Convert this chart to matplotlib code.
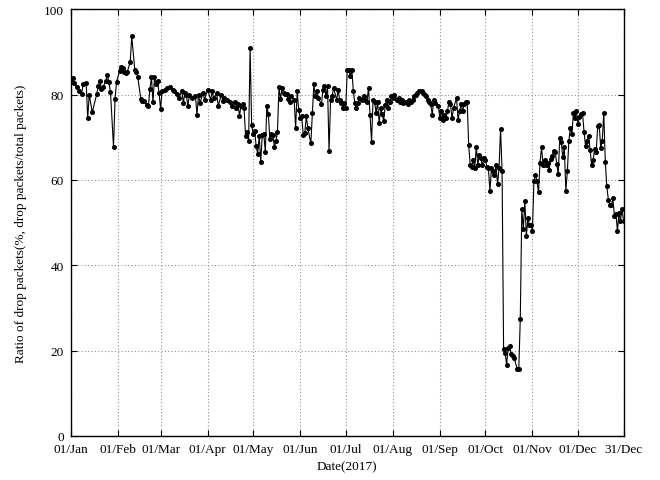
import matplotlib
matplotlib.use("Agg")
import matplotlib.pyplot as plt
import matplotlib.dates as mdates
import numpy as np
import pandas as pd

# ---- data (day offset from 2017-01-01, ratio %) ----
day_of_year = [
    0, 1, 2, 4, 5, 7, 8, 10, 11, 12, 14, 17, 18, 19, 20, 21, 23, 24, 25, 26, 28, 29, 30,
    32, 33, 34, 35, 36, 37, 39, 40, 42, 43, 44, 46, 47, 48, 50, 51, 52, 53, 54, 55, 56, 57, 58,
    59, 60, 62, 63, 65, 67, 68, 70, 71, 73, 74, 75, 76, 77, 78, 80, 82, 83, 84, 85, 87, 88, 90,
    92, 93, 94, 96, 97, 99, 100, 101, 103, 105, 106, 108, 109, 110, 111, 112, 113, 114, 115, 116, 117, 118, 119,
    120, 121, 122, 123, 124, 125, 126, 127, 128, 129, 130, 131, 132, 133, 134, 135, 136, 137, 138, 139, 140,
    141, 142, 143, 144, 145, 147, 148, 149, 150,
    151, 152, 153, 154, 155, 156, 158, 159, 160, 161, 162, 163, 165, 166, 167, 168, 169, 170,
    171, 172, 173, 175, 176, 177, 178, 179, 180,
    181, 182, 183, 184, 185, 186, 187, 188, 189, 190, 192, 193, 194, 195, 196, 197, 198, 199, 200,
    201, 202, 203, 204, 205, 206, 207, 208, 209, 210, 211,
    212, 213, 215, 216, 217, 218, 219, 221, 222, 223, 224, 225, 226, 227, 228, 229, 231, 232, 233,
    234, 235, 236, 237, 238, 239, 240, 242,
    243, 244, 245, 246, 247, 248, 249, 250, 251, 252, 254, 255, 256, 257, 258, 259, 260, 261, 262,
    263, 264, 265, 266, 267, 268, 269, 270, 271, 272,
    273, 274, 275, 276, 277, 278, 279, 280, 281, 282, 283, 284, 285, 286, 287, 288, 289, 290, 291,
    292, 294, 295, 296, 297, 298, 299, 300, 301, 302, 303,
    304, 305, 306, 307, 308, 309, 310, 311, 312, 313, 314, 315, 316, 317, 318, 319, 320, 321, 322,
    323, 324, 325, 326, 327, 328, 329, 330, 331, 332, 333,
    334, 335, 336, 337, 338, 339, 340, 341, 342, 343, 344, 345, 346, 347, 348, 349, 350, 351, 352,
    353, 354, 355, 356, 357, 358, 359, 360, 361, 362, 363, 364,
]
ratio = [
    82.9, 83.9, 82.7, 81.7, 80.9, 80.2, 82.5, 82.7, 74.5, 80.0, 75.9, 80.2, 82.1, 83.3, 81.3, 81.7, 83.3, 84.5, 82.9, 80.6, 67.7, 79.0, 83.0,
    85.6, 86.6, 86.2, 85.4, 85.1, 85.3, 87.6, 93.7, 85.9, 85.4, 84.1, 79.0, 78.6, 78.6, 77.6, 77.4, 81.3, 84.1, 78.2, 84.1, 82.5, 83.3, 80.4,
    76.7, 80.8, 81.2, 81.5, 81.8, 81.2, 80.8, 80.2, 79.2, 80.8, 78.1, 80.4, 80.0, 77.3, 80.0, 79.2, 79.6, 75.3, 80.0, 78.1, 80.4, 78.8, 81.2,
    78.8, 80.8, 79.2, 80.4, 77.3, 80.0, 78.6, 79.2, 78.8, 78.4, 77.3, 78.4, 76.9, 77.7, 75.1, 77.3, 77.7, 76.8, 70.4, 71.2, 69.2, 90.9, 72.9,
    70.8, 71.4, 67.9, 66.1, 70.4, 64.3, 70.5, 70.8, 66.6, 77.3, 75.5, 69.6, 70.8, 70.5, 67.7, 69.2, 71.2, 81.7, 79.0, 81.5, 80.4,
    80.2, 80.2, 79.0, 78.4, 79.6, 78.8, 72.2, 80.8, 76.5,
    74.5, 74.9, 70.6, 71.0, 74.9, 72.2, 68.6, 75.7, 82.4, 79.6, 80.8, 79.2, 77.7, 81.2, 82.0, 79.6, 82.0, 66.7,
    78.8, 79.6, 81.6, 78.8, 81.2, 78.8, 78.1, 76.9, 78.1,
    76.9, 85.9, 85.7, 84.4, 85.9, 80.8, 78.1, 76.9, 78.1, 79.2, 78.8, 79.6, 78.8, 78.4, 81.6, 75.3, 69.0, 78.8, 78.4,
    75.7, 78.4, 73.3, 76.9, 75.5, 73.8, 77.5, 78.8, 76.9, 78.4, 79.6,
    79.2, 80.0, 78.8, 79.2, 78.4, 78.8, 78.1, 78.4, 77.7, 78.8, 78.4, 78.8, 79.6, 80.0, 80.4, 80.8, 80.8, 80.4, 80.0,
    79.6, 78.8, 78.4, 77.7, 75.3, 78.8, 78.1, 77.3,
    74.5, 76.1, 74.1, 75.3, 74.5, 76.1, 78.4, 77.7, 74.5, 76.9, 79.2, 74.1, 76.1, 77.7, 76.1, 77.7, 78.4, 78.4, 68.2,
    63.5, 63.1, 64.7, 62.7, 67.8, 63.5, 65.9, 65.1, 63.5, 65.1,
    64.7, 63.1, 62.7, 57.4, 62.7, 62.0, 61.2, 63.5, 59.0, 62.7, 72.0, 62.0, 20.3, 19.5, 16.7, 20.7, 21.1, 19.1, 18.7,
    18.3, 15.6, 15.6, 27.5, 53.2, 48.5, 55.1, 46.9, 51.0, 49.5, 49.5,
    48.1, 59.8, 61.2, 59.7, 57.1, 64.1, 67.7, 63.5, 64.8, 63.5, 64.0, 62.3, 64.9, 65.6, 66.9, 66.6, 63.8, 61.4, 69.8,
    68.8, 65.3, 67.7, 57.5, 62.0, 69.2, 72.2, 70.8, 75.6, 74.5, 76.1,
    73.1, 74.7, 75.5, 75.7, 71.3, 68.0, 69.2, 70.4, 67.1, 63.4, 64.7, 67.3, 66.5, 72.6, 72.9, 67.4, 69.2, 75.7, 64.3,
    58.5, 55.4, 54.2, 54.2, 55.7, 51.6, 52.0, 48.1, 52.2, 50.5, 53.2, 50.5,
]

tick_dates = ["2017-01-01", "2017-02-01", "2017-03-01", "2017-04-01", "2017-05-01",
              "2017-06-01", "2017-07-01", "2017-08-01", "2017-09-01", "2017-10-01",
              "2017-11-01", "2017-12-01", "2017-12-31"]
tick_labels = ["01/Jan", "01/Feb", "01/Mar", "01/Apr", "01/May", "01/Jun", "01/Jul",
               "01/Aug", "01/Sep", "01/Oct", "01/Nov", "01/Dec", "31/Dec"]
y_ticks = [0, 20, 40, 60, 80, 100]

plt.rcParams['font.family'] = ['Liberation Serif', 'DejaVu Serif']
plt.rcParams['font.size'] = 9.5

dates = pd.Timestamp("2017-01-01") + pd.to_timedelta(day_of_year, unit="D")
tick_pos = pd.to_datetime(tick_dates)

fig = plt.figure(figsize=(6.6, 4.81), dpi=100)
ax = fig.add_axes([0.1076, 0.0917, 0.8371, 0.8867])

ax.plot(dates, ratio, color="black", linewidth=0.8, marker="o",
        markersize=2.6, markerfacecolor="black", markeredgecolor="black", zorder=3)

ax.set_xlim(pd.Timestamp("2017-01-01"), pd.Timestamp("2017-12-31"))
ax.set_ylim(0, 100)
ax.set_xticks(tick_pos)
ax.set_xticklabels(tick_labels)
ax.set_yticks(y_ticks)

ax.grid(True, color="#909090", linestyle=(0, (1, 2)), linewidth=0.8)
ax.tick_params(direction="in", length=4, width=0.8, top=True, right=True, pad=5)
for s in ax.spines.values():
    s.set_linewidth(1.0)

ax.set_xlabel("Date(2017)", labelpad=4)
ax.set_ylabel("Ratio of drop packets(%, drop packets/total packets)", labelpad=12)

fig.savefig("out.png", dpi=100)
